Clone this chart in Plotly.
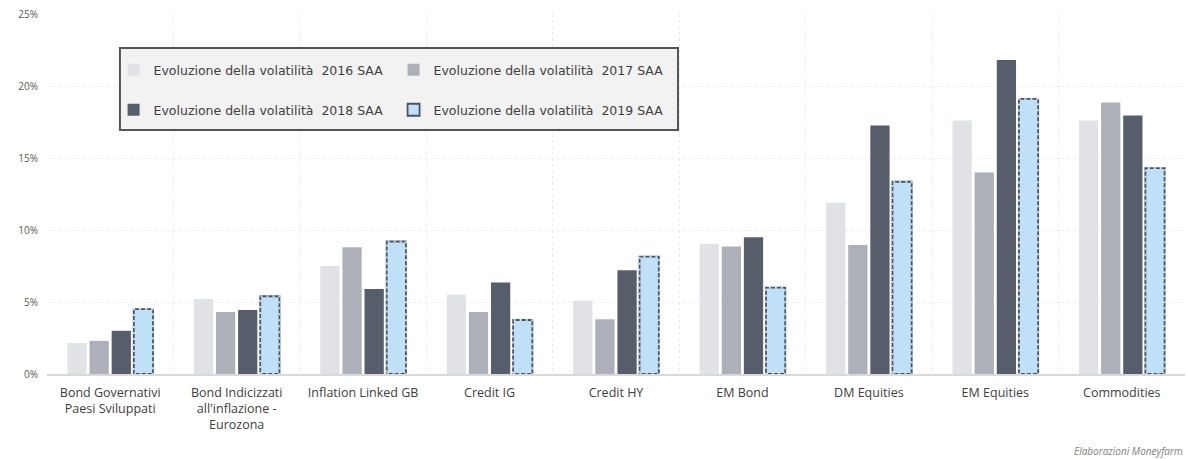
import plotly.graph_objects as go

categories = ["Bond Governativi<br>Paesi Sviluppati", "Bond Indicizzati<br>all'inflazione -<br>Eurozona",
              "Inflation Linked GB", "Credit IG", "Credit HY", "EM Bond", "DM Equities", "EM Equities", "Commodities"]
vol_2016 = [2.15, 5.2, 7.5, 5.5, 5.1, 9.05, 11.9, 17.6, 17.6]
vol_2017 = [2.3, 4.3, 8.8, 4.3, 3.8, 8.85, 8.95, 14.0, 18.85]
vol_2018 = [3.0, 4.45, 5.9, 6.35, 7.2, 9.5, 17.25, 21.8, 17.95]
vol_2019 = [4.5, 5.4, 9.2, 3.75, 8.15, 6.0, 13.35, 19.1, 14.3]
series_names = ["Evoluzione della volatilità  2016 SAA", "Evoluzione della volatilità  2017 SAA",
                "Evoluzione della volatilità  2018 SAA", "Evoluzione della volatilità  2019 SAA"]
colors = ["#e1e2e6", "#aeb0b9", "#575e6b", "#bfe0f7"]
legends = ["legend", "legend", "legend2", "legend2"]

FONT = "Open Sans"
BARGAP = 0.30
BARGROUPGAP = 0.13

fig = go.Figure()
for name, vals, col, lg in zip(series_names, [vol_2016, vol_2017, vol_2018, vol_2019], colors, legends):
    line = dict(width=0)
    if name.endswith("2019 SAA"):
        line = dict(color="#4a5160", width=1.8)
    fig.add_trace(go.Bar(x=categories, y=vals, name=name, marker=dict(color=col, line=line), legend=lg))

# dashed outline effect for 2019 bars, derived from data and bar layout
n_series = 4
slot = (1 - BARGAP) / n_series
bw = slot * (1 - BARGROUPGAP)
for i, v in enumerate(vol_2019):
    c = i - (1 - BARGAP) / 2 + slot * 3.5
    fig.add_shape(type="rect", xref="x", yref="y", x0=c - bw / 2, x1=c + bw / 2, y0=0, y1=v,
                  line=dict(color="#bfe0f7", width=2.2, dash="2px,4px"), layer="above")

# legend box
fig.add_shape(type="rect", xref="paper", yref="paper", x0=0.0641, x1=0.5545, y0=0.678, y1=0.9056,
              fillcolor="#f2f2f2", line=dict(color="#555555", width=2), layer="above")

legend_font = dict(size=12.5, color="#404040", family="DejaVu Sans")
fig.update_layout(
    width=1188, height=459,
    margin=dict(l=47, r=3, t=14, b=85),
    paper_bgcolor="white", plot_bgcolor="white",
    barmode="group", bargap=BARGAP, bargroupgap=BARGROUPGAP,
    font=dict(family=FONT, color="#404040", size=11),
    legend=dict(orientation="h", x=0.0585, y=0.844, xanchor="left", yanchor="middle",
                bgcolor="rgba(0,0,0,0)", entrywidth=235, font=legend_font, itemclick=False),
    legend2=dict(orientation="h", x=0.0585, y=0.733, xanchor="left", yanchor="middle",
                 bgcolor="rgba(0,0,0,0)", entrywidth=235, font=legend_font, itemclick=False),
    xaxis=dict(type="category", tickson="boundaries", showgrid=True, gridcolor="#ececec", griddash="dot",
               ticks="", showline=True, linecolor="#d9d9d9", linewidth=1.5,
               tickfont=dict(size=12.5, color="#404040"), ticklabelstandoff=6),
    yaxis=dict(range=[0, 25], dtick=5, ticksuffix="%", showgrid=True, gridcolor="#ececec", griddash="dot",
               zeroline=False, tickfont=dict(size=10, color="#595959"), ticklabelstandoff=8),
    annotations=[dict(text="<i>Elaborazioni Moneyfarm</i>", xref="paper", yref="paper", x=1.0, y=-0.215,
                      xanchor="right", yanchor="middle", showarrow=False,
                      font=dict(size=10, color="#808080", family=FONT))],
)

fig.write_html("out.html")
